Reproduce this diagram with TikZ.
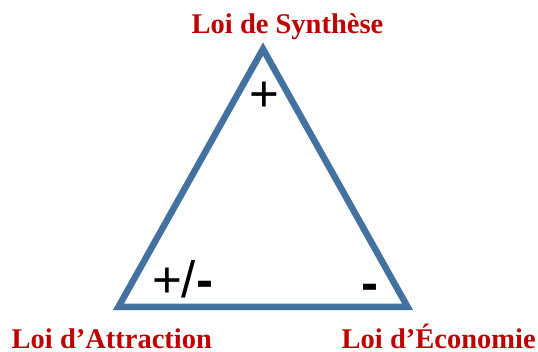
\documentclass[tikz,border=0pt]{standalone}
\usepackage{fontspec}
\setmainfont{Liberation Serif}
\newfontfamily\signfont{Liberation Sans}
\definecolor{triblue}{RGB}{68,114,160}
\definecolor{lawred}{RGB}{192,0,0}
\begin{document}
\begin{tikzpicture}[x=1pt,y=-1pt,
  lawlabel/.style={anchor=base west,inner sep=0pt,text=lawred,font=\fontsize{28.5}{30}\selectfont\bfseries},
  signlabel/.style={anchor=base west,inner sep=0pt,text=black,font=\signfont\fontsize{51}{52}\selectfont},
  triedge/.style={draw=triblue,line width=6.5pt,line join=miter}]
\useasboundingbox (0,0) rectangle (538,351);
\coordinate (apex) at (263,49);
\coordinate (bl) at (118.5,306.75);
\coordinate (br) at (407.5,306.75);
\draw[triedge] (apex) -- (bl) -- (br) -- cycle;
\node[lawlabel] (synth) at (191.5,33) {Loi de Synthèse};
\node[lawlabel] (attr) at (11.5,348) {Loi d’Attraction};
\node[lawlabel] (eco) at (341.5,348) {Loi d’Économie};
\node[signlabel] (plus) at (249.5,111.5) {+};
\node[signlabel] (plusminus) at (152,297) {+/{\bfseries -}};
\node[signlabel] (minus) at (361,300) {\bfseries -};
\end{tikzpicture}
\end{document}
